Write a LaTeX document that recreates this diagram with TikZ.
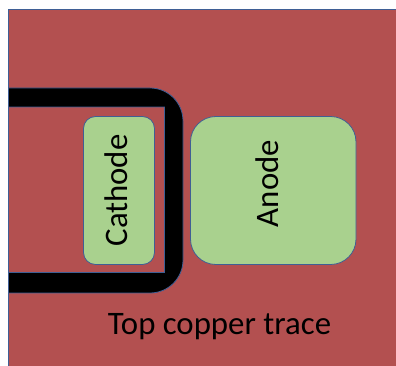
\documentclass[tikz,border=0pt]{standalone}
\usepackage{fontspec}
\setmainfont{Carlito}
\definecolor{copper}{HTML}{B35050}
\definecolor{padgreen}{HTML}{A9D18E}
\definecolor{edgeblue}{HTML}{3F5F95}
\tikzset{
  padshape/.style={draw=edgeblue,fill=padgreen,line width=0.6pt},
  padlabel/.style={rotate=90,font=\fontsize{24.6}{28}\selectfont,text=black},
}
\begin{document}
\begin{tikzpicture}[x=0.75pt,y=-0.75pt]
  \useasboundingbox (0,0) rectangle (396,366);
  % copper
  \fill[copper] (8.5,9) rectangle (396,366);
  \draw[edgeblue,line width=0.6pt] (396,9) -- (8.5,9) -- (8.5,366);

  % trace
  \draw[edgeblue,line width=0.6pt,fill=black] (8.5,88) -- (150,88)
    arc[start angle=-90,end angle=0,radius=33] -- (183,260)
    arc[start angle=0,end angle=90,radius=33] -- (8.5,293) -- (8.5,272.5)
    -- (164.5,272.5) -- (164.5,107) -- (8.5,107) -- cycle;

  % pads
  \draw[padshape,rounded corners=9pt] (83.5,116.5) rectangle (154.5,264.5);
  \node[padlabel] (cathode) at (116,190.5) {Cathode};
  \draw[padshape,rounded corners=19pt] (190.5,116.5) rectangle (356,264.5);
  \node[padlabel] (anode) at (267.5,183.5) {Anode};

  \node[font=\fontsize{24.6}{28}\selectfont] (trace) at (219.5,327) {Top copper trace};
\end{tikzpicture}
\end{document}
